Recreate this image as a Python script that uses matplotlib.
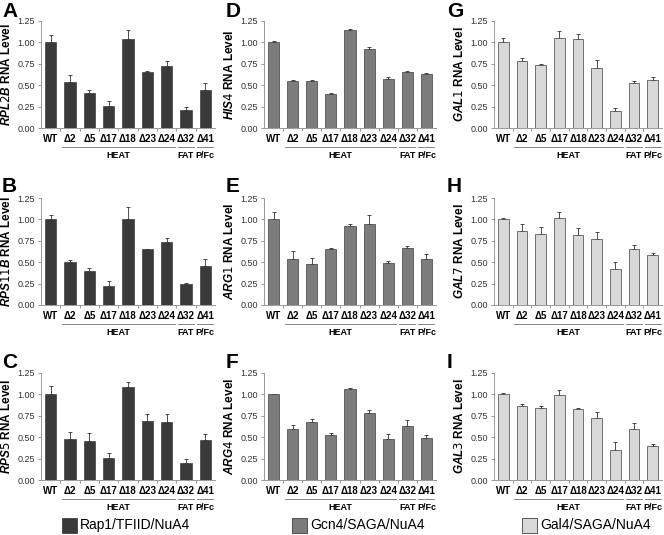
import numpy as np
import matplotlib.pyplot as plt

plt.rcParams['font.family'] = 'Liberation Sans'
plt.rcParams['mathtext.fontset'] = 'custom'
plt.rcParams['mathtext.it'] = 'Liberation Sans:bold:italic'

# categories shared by all panels
strains = ['WT', 'Δ2', 'Δ5', 'Δ17', 'Δ18', 'Δ23', 'Δ24', 'Δ32', 'Δ41']

# Rap1/TFIID/NuA4 genes
rpl2b = [1.00, 0.54, 0.41, 0.26, 1.04, 0.65, 0.73, 0.21, 0.44]
rpl2b_err = [0.09, 0.08, 0.03, 0.06, 0.11, 0.02, 0.05, 0.03, 0.09]
rps11b = [1.00, 0.50, 0.40, 0.22, 1.01, 0.65, 0.74, 0.24, 0.45]
rps11b_err = [0.05, 0.02, 0.03, 0.06, 0.13, 0.01, 0.04, 0.02, 0.09]
rps5 = [1.00, 0.48, 0.45, 0.26, 1.09, 0.69, 0.68, 0.20, 0.47]
rps5_err = [0.10, 0.08, 0.10, 0.06, 0.06, 0.08, 0.09, 0.04, 0.07]

# Gcn4/SAGA/NuA4 genes
his4 = [1.00, 0.55, 0.55, 0.40, 1.14, 0.92, 0.57, 0.65, 0.63]
his4_err = [0.02, 0.01, 0.01, 0.01, 0.02, 0.03, 0.02, 0.02, 0.01]
arg1 = [1.00, 0.54, 0.48, 0.65, 0.92, 0.95, 0.49, 0.67, 0.54]
arg1_err = [0.09, 0.09, 0.07, 0.02, 0.03, 0.10, 0.02, 0.02, 0.06]
arg4 = [1.00, 0.59, 0.68, 0.53, 1.06, 0.78, 0.48, 0.63, 0.49]
arg4_err = [0.01, 0.05, 0.03, 0.02, 0.01, 0.04, 0.06, 0.07, 0.03]

# Gal4/SAGA/NuA4 genes
gal1 = [1.00, 0.78, 0.74, 1.05, 1.04, 0.70, 0.20, 0.53, 0.56]
gal1_err = [0.05, 0.04, 0.01, 0.08, 0.06, 0.09, 0.03, 0.02, 0.03]
gal7 = [1.00, 0.87, 0.83, 1.02, 0.82, 0.77, 0.42, 0.66, 0.58]
gal7_err = [0.02, 0.08, 0.08, 0.07, 0.08, 0.08, 0.08, 0.04, 0.03]
gal3 = [1.00, 0.87, 0.84, 0.99, 0.83, 0.73, 0.35, 0.60, 0.40]
gal3_err = [0.02, 0.02, 0.03, 0.06, 0.01, 0.07, 0.09, 0.07, 0.02]

yticks = [0.00, 0.25, 0.50, 0.75, 1.00, 1.25]
groups = [('HEAT', 1, 6), ('FAT', 7, 7), ('P/Fc', 8, 8)]

colors = ['#3a3a3a', '#7c7c7c', '#d8d8d8']
legend_names = ['Rap1/TFIID/NuA4', 'Gcn4/SAGA/NuA4', 'Gal4/SAGA/NuA4']

panels = [
    [('A', 'RPL2B', rpl2b, rpl2b_err), ('B', 'RPS11B', rps11b, rps11b_err), ('C', 'RPS5', rps5, rps5_err)],
    [('D', 'HIS4', his4, his4_err), ('E', 'ARG1', arg1, arg1_err), ('F', 'ARG4', arg4, arg4_err)],
    [('G', 'GAL1', gal1, gal1_err), ('H', 'GAL7', gal7, gal7_err), ('I', 'GAL3', gal3, gal3_err)],
]

W, H = 664, 535
fig = plt.figure(figsize=(6.64, 5.35), dpi=100)

lefts = [41, 264, 494]
widths = [174, 172, 168]
bottoms = [128, 305, 480]
letter_x = [2, 226, 447]
letter_y = [2, 177, 353]
height = 107

x = np.arange(len(strains))
for c in range(3):
    for r in range(3):
        letter, gene, vals, errs = panels[c][r]
        ax = fig.add_axes([lefts[c] / W, (H - bottoms[r]) / H, widths[c] / W, height / H])
        ax.bar(x, vals, width=0.58, color=colors[c], edgecolor='#404040', linewidth=0.5, zorder=2)
        ax.errorbar(x, vals, yerr=[np.zeros(len(errs)), errs], fmt='none',
                    ecolor='#303030', elinewidth=0.6, capsize=1.5, capthick=0.6, zorder=1)
        ax.set_xlim(-0.5, len(strains) - 0.5)
        ax.set_ylim(0, 1.25)
        ax.set_yticks(yticks)
        ax.set_yticklabels(['%.2f' % v for v in yticks], fontsize=6.5, color='#333333')
        ax.set_xticks(x)
        ax.set_xticklabels(strains, fontsize=7, fontweight='bold')
        ax.set_xticks(np.arange(0.5, len(strains) - 0.5), minor=True)
        ax.tick_params(axis='x', which='major', length=0, pad=4)
        ax.tick_params(axis='x', which='minor', length=2.5, color='#888888', width=0.6)
        ax.tick_params(axis='y', length=2.5, color='#888888', width=0.6, pad=2)
        for s in ['top', 'right']:
            ax.spines[s].set_visible(False)
        for s in ['left', 'bottom']:
            ax.spines[s].set_color('#999999')
            ax.spines[s].set_linewidth(0.7)
        ax.set_ylabel('$\\mathit{%s}$ RNA Level' % gene, fontsize=8.5, fontweight='bold', labelpad=3)
        fig.text(letter_x[c] / W, (H - letter_y[r]) / H, letter, fontsize=15, fontweight='bold',
                 va='top', ha='left')
        trans = ax.get_xaxis_transform()
        for name, i0, i1 in groups:
            ax.plot([i0 - 0.42, i1 + 0.42], [-0.175, -0.175], color='#888888', lw=0.7,
                    transform=trans, clip_on=False)
            ax.text((i0 + i1) / 2, -0.215, name, transform=trans, fontsize=6.5,
                    fontweight='bold', ha='center', va='top')

# legend boxes along the bottom
leg_x = [62, 292, 522]
for c in range(3):
    fig.patches.append(plt.Rectangle((leg_x[c] / W, (H - 533) / H), 15 / W, 15 / H,
                                     transform=fig.transFigure, facecolor=colors[c],
                                     edgecolor='#404040', linewidth=0.6))
    fig.text((leg_x[c] + 18) / W, (H - 525) / H, legend_names[c], fontsize=10,
             va='center', ha='left')

fig.savefig('out.png', dpi=100)
